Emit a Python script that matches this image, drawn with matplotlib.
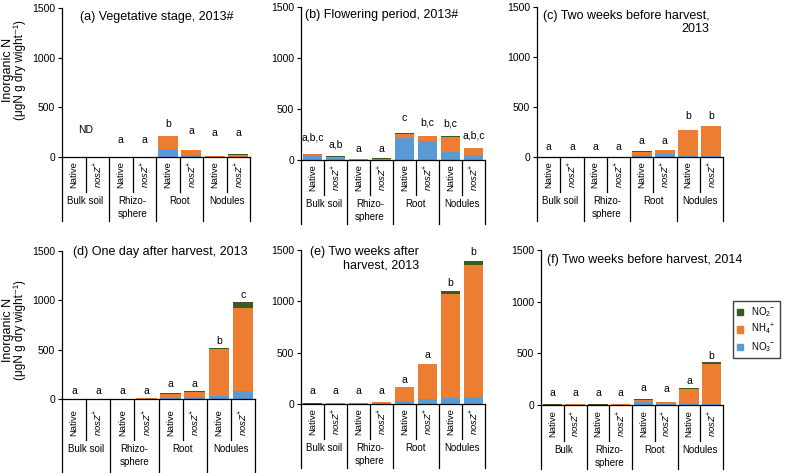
import numpy as np
import matplotlib
matplotlib.use('Agg')
from matplotlib import pyplot as plt
from matplotlib.patches import Patch

plt.rcParams['font.family'] = ['Liberation Sans', 'DejaVu Sans']
plt.rcParams['mathtext.fontset'] = 'custom'
plt.rcParams['mathtext.rm'] = 'Liberation Sans'
plt.rcParams['mathtext.it'] = 'Liberation Sans:italic'
plt.rcParams['mathtext.bf'] = 'Liberation Sans:bold'

groups = ['Bulk soil', 'Rhizo-\nsphere', 'Root', 'Nodules']
groups_2014 = ['Bulk', 'Rhizo-\nsphere', 'Root', 'Nodules']
strains = ['Native', r'$nosZ^{+}$']

# (a) Vegetative stage, 2013
a_no3 = [0, 0, 0, 0, 85, 22, 2, 3]
a_nh4 = [0, 0, 0, 0, 125, 48, 9, 22]
a_no2 = [0, 0, 0, 0, 4, 3, 2, 2]
a_sig = ['', '', 'a', 'a', 'b', 'a', 'a', 'a']
a_sig_y = [0, 0, 167, 167, 333, 257, 240, 240]

# (b) Flowering period, 2013
b_no3 = [52, 22, 3, 5, 216, 184, 77, 45]
b_nh4 = [4, 8, 3, 6, 42, 48, 151, 68]
b_no2 = [4, 8, 2, 4, 8, 6, 6, 6]
b_sig = ['a,b,c', 'a,b', 'a', 'a', 'c', 'b,c', 'b,c', 'a,b,c']
b_sig_y = [222, 152, 103, 103, 410, 368, 361, 239]

# (c) Two weeks before harvest, 2013
c_no3 = [0, 1, 0, 0, 20, 25, 5, 5]
c_nh4 = [0, 2, 0, 0, 33, 40, 262, 302]
c_no2 = [0, 1, 0, 0, 4, 5, 6, 6]
c_sig = ['a', 'a', 'a', 'a', 'a', 'a', 'b', 'b']
c_sig_y = [97, 97, 97, 97, 157, 157, 407, 407]

# (d) One day after harvest, 2013
d_no3 = [0, 0, 1, 2, 15, 20, 27, 78]
d_nh4 = [0, 0, 3, 5, 38, 53, 483, 844]
d_no2 = [0, 0, 1, 1, 5, 5, 9, 64]
d_sig = ['a', 'a', 'a', 'a', 'a', 'a', 'b', 'c']
d_sig_y = [78, 78, 78, 78, 153, 153, 583, 1050]

# (e) Two weeks after harvest, 2013
e_no3 = [1, 2, 2, 3, 32, 45, 58, 64]
e_nh4 = [3, 5, 7, 13, 135, 343, 1013, 1286]
e_no2 = [1, 1, 1, 2, 3, 4, 25, 42]
e_sig = ['a', 'a', 'a', 'a', 'a', 'a', 'b', 'b']
e_sig_y = [129, 129, 129, 129, 231, 482, 1183, 1482]

# (f) Two weeks before harvest, 2014
f_no3 = [1, 2, 1, 2, 32, 5, 5, 10]
f_nh4 = [3, 5, 3, 5, 18, 20, 150, 384]
f_no2 = [1, 1, 1, 1, 5, 4, 6, 25]
f_sig = ['a', 'a', 'a', 'a', 'a', 'a', 'a', 'b']
f_sig_y = [119, 119, 119, 119, 168, 155, 235, 477]

COL_NO3 = '#5B9BD5'
COL_NH4 = '#ED7D31'
COL_NO2 = '#3A5A22'

W, H = 787, 473
fig = plt.figure(figsize=(W / 100, H / 100), dpi=100)


def px_rect(left, right, top, bottom):
    return [left / W, 1 - bottom / H, (right - left) / W, (bottom - top) / H]


def draw_panel(rect, no3, nh4, no2, sig, sig_y, title, title_xy, grp, low=64, lab=39):
    left, right, top, bottom = rect
    ax = fig.add_axes(px_rect(left, right, top, bottom))
    axh = bottom - top
    x = np.arange(8)
    no3 = np.array(no3)
    nh4 = np.array(nh4)
    no2 = np.array(no2)
    ax.bar(x, no3, 0.85, color=COL_NO3)
    ax.bar(x, nh4, 0.85, bottom=no3, color=COL_NH4)
    ax.bar(x, no2, 0.85, bottom=no3 + nh4, color=COL_NO2)
    for i in range(8):
        if sig[i]:
            ax.text(x[i], sig_y[i], sig[i], ha='center', va='center', fontsize=7.5)
    ax.set_xlim(-0.5, 7.5)
    ax.set_ylim(0, 1500)
    ax.set_yticks([0, 500, 1000, 1500])
    ax.tick_params(axis='y', labelsize=7.5, length=3, width=0.8, direction='out', pad=2)
    ax.set_xticks([])
    ax.spines['top'].set_visible(False)
    ax.spines['right'].set_visible(False)
    ax.spines['left'].set_linewidth(0.9)
    ax.spines['bottom'].set_linewidth(0.9)
    trans = ax.get_xaxis_transform()
    # separators of the category axis
    for s in [-0.5, 1.5, 3.5, 5.5, 7.5]:
        ax.plot([s, s], [0, -low / axh], transform=trans, color='black', lw=0.9, clip_on=False)
    for s in [0.5, 2.5, 4.5, 6.5]:
        ax.plot([s, s], [0, -(lab - 4) / axh], transform=trans, color='black', lw=0.9, clip_on=False)
    for i in range(8):
        ax.text(x[i], -(lab - 35) / axh, strains[i % 2], transform=trans, rotation=90,
                ha='center', va='top', fontsize=6.8)
    for g in range(4):
        ax.text(2 * g + 0.5, -lab / axh, grp[g], transform=trans, ha='center', va='top',
                fontsize=7, linespacing=1.35)
    fig.text(title_xy[0] / W, 1 - title_xy[1] / H, title, ha='left', va='top',
             fontsize=9, multialignment='right', linespacing=1.15)
    return ax


ax_a = draw_panel((62, 250, 8, 157), a_no3, a_nh4, a_no2, a_sig, a_sig_y,
                  '(a) Vegetative stage, 2013#', (80, 11), groups)
ax_a.text(0.5, 267, 'ND', ha='center', va='center', fontsize=7.5)
draw_panel((301, 485, 7, 160), b_no3, b_nh4, b_no2, b_sig, b_sig_y,
           '(b) Flowering period, 2013#', (305, 9), groups)
draw_panel((537, 723, 7, 157), c_no3, c_nh4, c_no2, c_sig, c_sig_y,
           '(c) Two weeks before harvest,\n2013', (543, 10), groups)
draw_panel((62, 255, 251, 399), d_no3, d_nh4, d_no2, d_sig, d_sig_y,
           '(d) One day after harvest, 2013', (73, 246), groups, low=80, lab=45)
draw_panel((301, 485, 250, 404), e_no3, e_nh4, e_no2, e_sig, e_sig_y,
           '(e) Two weeks after\nharvest, 2013', (310, 246), groups)
draw_panel((541, 723, 250, 405), f_no3, f_nh4, f_no2, f_sig, f_sig_y,
           '(f) Two weeks before harvest, 2014', (547, 254), groups_2014, lab=40)

for yc in [70, 330]:
    fig.text(8 / W, 1 - yc / H, 'Inorganic N', rotation=90, ha='center', va='center', fontsize=9)
    fig.text(20 / W, 1 - yc / H, '(μgN g dry wight⁻¹)', rotation=90,
             ha='center', va='center', fontsize=8.5)

handles = [Patch(color=COL_NO2), Patch(color=COL_NH4), Patch(color=COL_NO3)]
labels = [r'NO$_2$$^{-}$', r'NH$_4$$^{+}$', r'NO$_3$$^{-}$']
fig.legend(handles, labels, loc='upper left', bbox_to_anchor=(733 / W, 1 - 301 / H),
           fontsize=7, handlelength=0.6, handleheight=0.6, handletextpad=0.8,
           labelspacing=0.3, borderpad=0.45, borderaxespad=0, fancybox=False,
           edgecolor='#404040', framealpha=1)

fig.savefig('out.png', dpi=100)
